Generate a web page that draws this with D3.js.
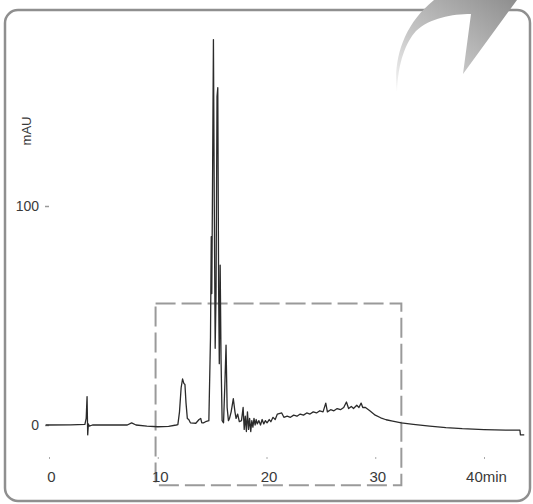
<!DOCTYPE html>
<html>
<head>
<meta charset="utf-8">
<script src="https://cdn.jsdelivr.net/npm/d3@7"></script>
<style>
    html, body { margin: 0; padding: 0; background: #fff; }
    svg { display: block; }
    .axis text { font-family: "Liberation Sans", Arial, sans-serif; fill: #3a3a3a; }
</style>
</head>
<body>
<svg id="chart" width="533" height="504"></svg>
<script>
// retention time (min) and absorbance (mAU)
const times = [
    -0.3, 2.0, 3.3, 3.42, 3.5, 3.56, 3.62, 3.7, 4.0, 7.2, 7.6, 8.0, 9.0, 10.0, 11.0, 11.7,
    11.85, 12.0, 12.15, 12.28, 12.4, 12.5, 12.6, 12.72, 12.85, 13.0, 13.5, 13.8, 13.95, 14.05, 14.2, 14.4,
    14.7, 14.85, 14.92, 14.97, 15.05, 15.12, 15.2, 15.28, 15.36, 15.45, 15.52, 15.6, 15.66, 15.74, 15.82, 15.92,
    16.05, 16.18, 16.28, 16.38, 16.5, 16.6, 16.75, 16.95, 17.1, 17.2, 17.35, 17.5, 17.7, 17.85, 17.95,
    18.05, 18.15, 18.25, 18.35, 18.45, 18.55, 18.65, 18.75, 18.85, 18.95, 19.05, 19.15, 19.3, 19.45, 19.6, 19.75, 19.9,
    20.05, 20.25, 20.4, 20.6, 20.8, 21.0, 21.4, 21.6, 21.9, 22.2, 22.5, 22.8, 23.1, 23.4, 23.7, 24.0, 24.3, 24.6, 24.9,
    25.2, 25.45, 25.6, 25.9, 26.2, 26.5, 26.8, 27.1, 27.35, 27.55, 27.8, 28.0, 28.3, 28.5, 28.7, 28.85, 29.1, 29.5,
    30.0, 30.5, 31.0, 31.6, 32.4, 33.5, 35.0, 36.5, 38.0, 40.0, 42.0, 43.3, 43.35, 43.7
];
const mAU = [
    0, 0.1, 0.3, 3, 13, -4.5, 0.5, -0.5, 0, 0, 1, 0, -0.5, -0.8, -0.6, 0,
    0.2, 6, 17, 21, 19, 18.5, 10, 3, 2.5, 1, 0.8, 2.5, 3, 1, 1, 1.5,
    2, 40, 86, 60, 120, 176, 100, 35, 60, 150, 154, 60, 28, 73, 30, 2,
    1, 20, 36.5, 8, 2, 3, 6, 12, 6, 3, 5, 1.5, 2, 8, -2,
    4, -3, 6, -2, 3, -3, 2, -1, 3, 0, 2.5, 0.5, 2, 0, 2.5, 0.5, 2,
    1, 2.5, 1.5, 3.5, 2.5, 5, 5.5, 3.5, 4, 3.5, 4.5, 4, 5, 4.5, 5.5, 5, 6, 5.5, 6.5,
    6, 10, 6, 7, 6.5, 7.5, 7, 8, 10.5, 7.5, 8.5, 7.5, 9, 8, 10, 8, 8, 6.5,
    4.5, 3.3, 2.4, 1.8, 1, 0.3, -0.5, -1.2, -1.7, -2.1, -2.3, -2.3, -4.5, -4.5
];
const xTicks = [0, 10, 20, 30, 40];
const yTicks = [0, 100];
const yLabel = "mAU";
// zoom box drawn on the chromatogram: [t0, t1] x [v0, v1]
const boxTimes = [9.8, 32.4];
const boxValues = [-27.5, 55.5];

const svg = d3.select("#chart");
const x = d3.scaleLinear().domain([0, 40]).range([49, 484]);
const y = d3.scaleLinear().domain([0, 100]).range([425, 206]);

// frame
svg.append("rect")
    .attr("x", 5).attr("y", 10)
    .attr("width", 525).attr("height", 491)
    .attr("rx", 13)
    .attr("fill", "#fff")
    .attr("stroke", "#8f8f8f")
    .attr("stroke-width", 2.5);

// grey swoosh on the top right corner
const defs = svg.append("defs");
const grad = defs.append("linearGradient")
    .attr("id", "swoosh")
    .attr("x1", 0).attr("y1", 1).attr("x2", 1).attr("y2", 0);
grad.append("stop").attr("offset", 0).attr("stop-color", "#f6f6f6");
grad.append("stop").attr("offset", 0.35).attr("stop-color", "#c9c9c9");
grad.append("stop").attr("offset", 1).attr("stop-color", "#8e8e8e");
svg.append("path")
    .attr("d", "M397,92 C393,60 403,25 434,0 L517,0 L463,74 L471,14 C452,14 430,18 416,31 C406,42 398,62 397,92 Z")
    .attr("fill", "url(#swoosh)");

// dashed box
svg.append("rect")
    .attr("x", x(boxTimes[0]))
    .attr("y", y(boxValues[1]))
    .attr("width", x(boxTimes[1]) - x(boxTimes[0]))
    .attr("height", y(boxValues[0]) - y(boxValues[1]))
    .attr("fill", "none")
    .attr("stroke", "#9a9a9a")
    .attr("stroke-width", 2)
    .attr("stroke-dasharray", "20,6");

// axes
const xAxis = d3.axisBottom(x)
    .tickValues(xTicks)
    .tickSize(2)
    .tickPadding(12)
    .tickFormat(d => d === 40 ? "40min" : d);
const gx = svg.append("g")
    .attr("class", "axis")
    .attr("transform", "translate(0,457)")
    .call(xAxis);
gx.select(".domain").remove();
gx.selectAll("line").attr("stroke", "#aaa");
gx.selectAll("text").style("font-size", "15px").attr("dx", 2);

const yAxis = d3.axisLeft(y)
    .tickValues(yTicks)
    .tickSize(4)
    .tickPadding(6);
const gy = svg.append("g")
    .attr("class", "axis")
    .attr("transform", "translate(49,0)")
    .call(yAxis);
gy.select(".domain").remove();
gy.selectAll("line").attr("stroke", "#999").attr("stroke-width", 1.5);
gy.selectAll("text").style("font-size", "14px").attr("dy", "0.3em");

svg.append("text")
    .attr("transform", "translate(31,131) rotate(-90)")
    .attr("text-anchor", "middle")
    .style("font-family", "'Liberation Sans', Arial, sans-serif")
    .style("font-size", "13px")
    .attr("fill", "#3a3a3a")
    .text(yLabel);

// chromatogram trace
const line = d3.line()
    .x((d, i) => x(times[i]))
    .y(d => y(d));
svg.append("path")
    .datum(mAU)
    .attr("d", line)
    .attr("fill", "none")
    .attr("stroke", "#2b2b2b")
    .attr("stroke-width", 1.3)
    .attr("stroke-linejoin", "round");
</script>
</body>
</html>
